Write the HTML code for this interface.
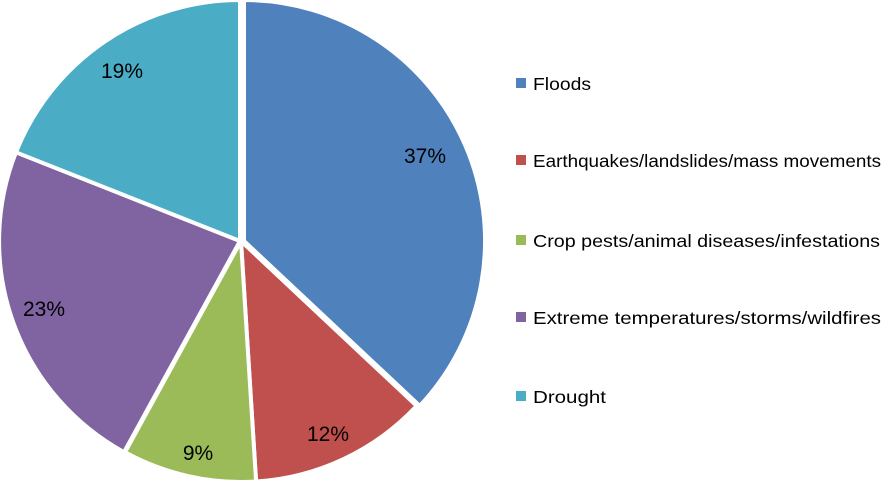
<!DOCTYPE html>
<html><head><meta charset="utf-8"><style>
html,body{margin:0;padding:0;background:#fff;}
svg{display:block;font-family:"Liberation Sans",Arial,sans-serif;}
</style></head><body>
<svg width="896" height="483" viewBox="0 0 896 483" xmlns="http://www.w3.org/2000/svg">
<g stroke="#fff" stroke-width="4" stroke-linejoin="round">
<path d="M244,241 L244,0 A241,241 0 0 1 419.8,405.9 Z" fill="#4F81BD"/>
<path d="M241,241 L416.7,405.9 A241,241 0 0 1 256.1,481.5 Z" fill="#C0504D"/>
<path d="M241,241 L256.1,481.5 A241,241 0 0 1 125.0,452.2 Z" fill="#9BBB59"/>
<path d="M240,241 L124.0,452.2 A241,241 0 0 1 16.0,152.3 Z" fill="#8064A2"/>
<path d="M240,241 L16.0,152.3 A241,241 0 0 1 240,0 Z" fill="#4BACC6"/>
</g>
<g font-size="21" fill="#000" text-anchor="middle">
<text x="425" y="163">37%</text>
<text x="328" y="441">12%</text>
<text x="198" y="460">9%</text>
<text x="44" y="316">23%</text>
<text x="122" y="78">19%</text>
</g>
<g font-size="17.5" fill="#000">
<rect x="516" y="78" width="10" height="10" fill="#4F81BD"/><text x="533" y="90" textLength="58" lengthAdjust="spacingAndGlyphs">Floods</text>
<rect x="516" y="155" width="10" height="10" fill="#C0504D"/><text x="533" y="167" textLength="348" lengthAdjust="spacingAndGlyphs">Earthquakes/landslides/mass movements</text>
<rect x="516" y="235" width="10" height="10" fill="#9BBB59"/><text x="533" y="247" textLength="347" lengthAdjust="spacingAndGlyphs">Crop pests/animal diseases/infestations</text>
<rect x="516" y="312" width="10" height="10" fill="#8064A2"/><text x="533" y="324" textLength="348" lengthAdjust="spacingAndGlyphs">Extreme temperatures/storms/wildfires</text>
<rect x="516" y="391" width="10" height="10" fill="#4BACC6"/><text x="533" y="403" textLength="73" lengthAdjust="spacingAndGlyphs">Drought</text>
</g>
</svg>
</body></html>
